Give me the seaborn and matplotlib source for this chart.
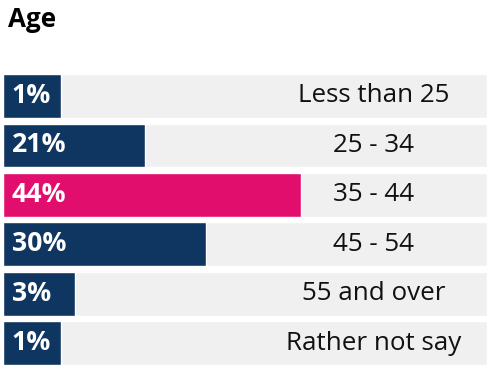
import numpy as np
import pandas as pd
import matplotlib
matplotlib.use("Agg")
import matplotlib.pyplot as plt
import seaborn as sns

# ---- data ----
categories = ["Less than 25", "25 - 34", "35 - 44", "45 - 54", "55 and over", "Rather not say"]
values = [1, 21, 44, 30, 3, 1]
highlight = "35 - 44"
title = "Age"

# ---- style ----
NAVY = "#0f3661"
PINK = "#e20e6e"
GREY = "#f0f0f0"
XMAX = 71.5

sns.set_theme(style="white")
plt.rcParams["font.family"] = ["Open Sans", "DejaVu Sans"]

df = pd.DataFrame({"category": categories, "value": values})
# small bars get extra room so their label fits inside
df["length"] = np.where(df["value"] < 10, df["value"] + 7.6, df["value"] * 1.0)
df["bg"] = XMAX

fig = plt.figure(figsize=(5.0, 3.71), dpi=100)
ax = fig.add_axes([0.006, 0.0162, 0.968, 0.7843])

sns.barplot(data=df, y="category", x="bg", color=GREY, orient="h",
            width=0.88, ax=ax, saturation=1)
palette = {c: (PINK if c == highlight else NAVY) for c in categories}
sns.barplot(data=df, y="category", x="length", hue="category", palette=palette,
            orient="h", width=0.88, ax=ax, saturation=1, legend=False, dodge=False)

ax.set_xlim(0, XMAX)
ax.set_ylim(5.44, -0.44)
ax.set_axis_off()

for i, (c, v) in enumerate(zip(categories, values)):
    ax.text(1.3, i, f"{v}%", color="white", fontsize=19.2, fontweight="bold",
            va="center", ha="left")
    ax.text(54.7, i, c, color="#111111", fontsize=18.7, va="center", ha="center")

fig.text(0.017, 0.985, title, fontsize=18.7, fontweight="bold", color="black",
         va="top", ha="left")

fig.savefig("out.png", dpi=100)
